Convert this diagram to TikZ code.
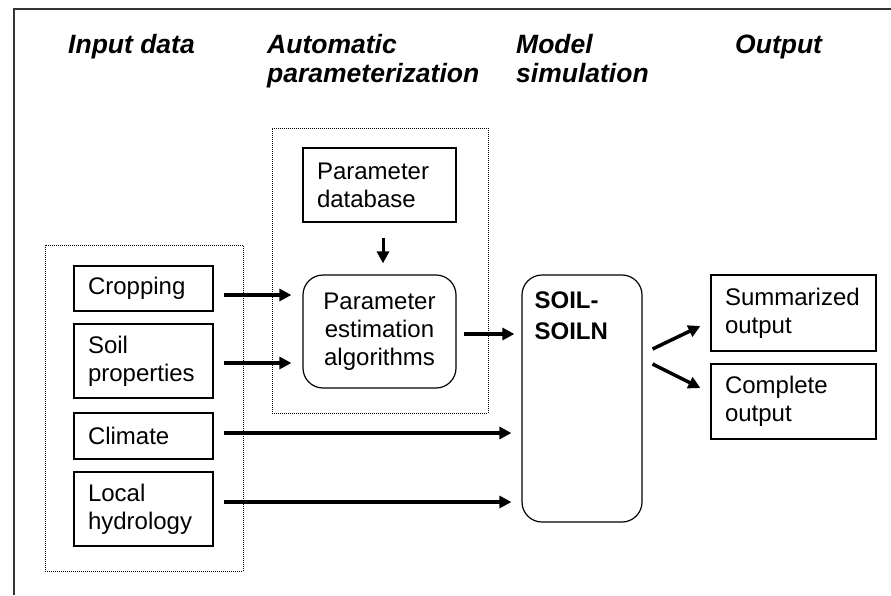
\documentclass[tikz,border=0pt]{standalone}
\usepackage{fontspec}
\setmainfont{Liberation Sans}
\usepackage{tikz}
\usetikzlibrary{arrows.meta, positioning, calc}

\begin{document}
\begin{tikzpicture}[x=1pt, y=-1pt,
        titulo/.style={anchor=base west, align=left, inner sep=0pt, font=\fontsize{26.5}{29}\selectfont\bfseries\itshape},
        caja/.style={draw, line width=1.2pt, inner xsep=14pt, inner ysep=2pt, align=left, font=\fontsize{24}{28}\selectfont},
        redondo/.style={caja, rounded corners=20pt, align=center},
        grupo/.style={draw, line width=0.8pt, dash pattern=on 1pt off 1pt, inner sep=0pt},
        flecha/.style={line width=3.5pt, -{Triangle[length=12pt, width=12pt]}}]
        \useasboundingbox (0,0) rectangle (891,595);

        % Marco
        \draw[line width=1.5pt, black!80] (891,9) -- (14,9) -- (14,595);

        % Titulos de columnas
        \node[titulo] (tin) at (68,53) {Input data};
        \node[titulo] (tpar) at (267,82) {Automatic\\parameterization};
        \node[titulo] (tmod) at (516,82) {Model\\simulation};
        \node[titulo] (tout) at (735,53) {Output};

        % Grupos punteados
        \node[grupo, minimum width=198pt, minimum height=326pt] (gin) at (144,408) {};
        \node[grupo, minimum width=216pt, minimum height=285pt] (gpar) at (380,270.5) {};

        % Datos de entrada
        \node[caja, text width=111pt, minimum height=45pt] (crop) at (143.5,288.5) {Cropping};
        \node[caja, text width=111pt, minimum height=74pt] (soil) at (143.5,361) {Soil\\properties};
        \node[caja, text width=111pt, minimum height=46pt] (clim) at (143.5,436) {Climate};
        \node[caja, text width=111pt, minimum height=74pt] (hydro) at (143.5,509) {Local\\hydrology};

        % Parametrizacion
        \node[caja, text width=125pt, minimum height=74pt] (pdb) at (379.5,185) {Parameter\\database};
        \node[redondo, text width=125pt, minimum height=113pt] (pest) at (379.5,331.5) {Parameter\\estimation\\algorithms};

        % Modelo
        \node[draw, line width=1.2pt, rounded corners=20pt, minimum width=120pt, minimum height=247pt] (soiln) at (582,398.5) {};
        \node[anchor=base west, align=left, inner sep=0pt, font=\fontsize{24}{31}\selectfont\bfseries] (soiltxt) at ($(soiln.north west)+(13,65)$) {SOIL-\\SOILN};

        % Salidas
        \node[caja, text width=137pt, minimum height=76pt] (summ) at (793.5,313) {Summarized\\output};
        \node[caja, text width=137pt, minimum height=75pt] (comp) at (793.5,401.5) {Complete\\output};

        % Flechas
        \draw[flecha] ($(crop.east)+(10,6.5)$) -- ($(crop.east -| pest.west)+(-11,6.5)$);
        \draw[flecha] ($(soil.east)+(10,2)$) -- ($(soil.east -| pest.west)+(-11,2)$);
        \draw[flecha] ($(clim.east)+(10,-3)$) -- ($(clim.east -| soiln.west)+(-10,-3)$);
        \draw[flecha] ($(hydro.east)+(10,-7)$) -- ($(hydro.east -| soiln.west)+(-10,-7)$);
        \draw[flecha, line width=3pt] ($(pdb.south)+(3.5,15)$) -- ($(pest.north)+(3.5,-11)$);
        \draw[flecha] ($(pest.east)+(7,2.5)$) -- ($(pest.east -| soiln.west)+(-7,2.5)$);
        \draw[flecha] ($(soiln.east)+(10,-49.5)$) -- ($(summ.west)+(-10,13)$);
        \draw[flecha] ($(soiln.east)+(10,-34.5)$) -- ($(comp.west)+(-10,-13.5)$);
    \end{tikzpicture}
\end{document}
